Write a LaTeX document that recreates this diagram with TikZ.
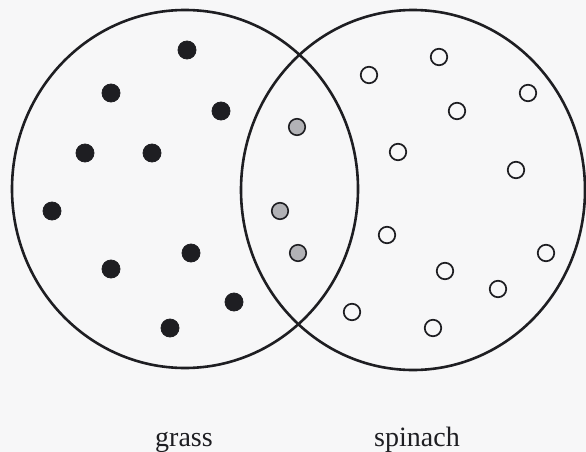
\documentclass[tikz,border=0pt]{standalone}
\usepackage{fontspec}
\setmainfont{Liberation Serif}
\definecolor{bg}{RGB}{247,247,248}
\definecolor{ink}{RGB}{30,30,34}
\definecolor{midgrey}{RGB}{178,178,182}
\begin{document}
\begin{tikzpicture}[x=1pt,y=-1pt,
  setline/.style={draw=ink,line width=2.6pt},
  blackdot/.style={circle,fill=ink,draw=ink,line width=0.8pt,minimum size=18pt,inner sep=0pt},
  greydot/.style={circle,fill=midgrey,draw=ink,line width=1.6pt,minimum size=16.5pt,inner sep=0pt},
  opendot/.style={circle,fill=bg,draw=ink,line width=1.7pt,minimum size=16.5pt,inner sep=0pt},
  lbl/.style={font=\fontsize{28}{32}\selectfont,text=ink,anchor=base,inner sep=0pt}]
\useasboundingbox[fill=bg] (0,0) rectangle (586,452);
% sets
\draw[setline] (185,189) ellipse [x radius=173, y radius=179];
\draw[setline] (413,190) ellipse [x radius=172, y radius=180];
% grass only
\node[blackdot] (b1) at (187,50) {};
\node[blackdot] (b2) at (111,93) {};
\node[blackdot] (b3) at (221,111) {};
\node[blackdot] (b4) at (85,153) {};
\node[blackdot] (b5) at (152,153) {};
\node[blackdot] (b6) at (52,211) {};
\node[blackdot] (b7) at (191,253) {};
\node[blackdot] (b8) at (111,269) {};
\node[blackdot] (b9) at (234,302) {};
\node[blackdot] (b10) at (170,328) {};
% both
\node[greydot] (g1) at (297,127) {};
\node[greydot] (g2) at (280,211) {};
\node[greydot] (g3) at (298,253) {};
% spinach only
\node[opendot] (s1) at (369,75) {};
\node[opendot] (s2) at (439,57) {};
\node[opendot] (s3) at (528,93) {};
\node[opendot] (s4) at (457,111) {};
\node[opendot] (s5) at (398,152) {};
\node[opendot] (s6) at (516,170) {};
\node[opendot] (s7) at (387,235) {};
\node[opendot] (s8) at (546,253) {};
\node[opendot] (s9) at (445,271) {};
\node[opendot] (s10) at (498,289) {};
\node[opendot] (s11) at (352,312) {};
\node[opendot] (s12) at (433,328) {};
% labels
\node[lbl] (grass) at (184,446) {grass};
\node[lbl] (spinach) at (417,446) {spinach};
\end{tikzpicture}
\end{document}
